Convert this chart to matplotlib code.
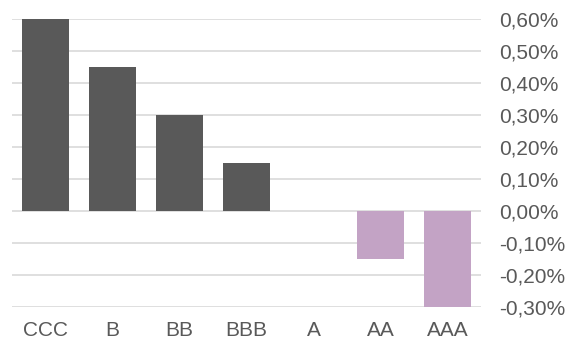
import matplotlib
matplotlib.use("Agg")
import matplotlib.pyplot as plt
from matplotlib.ticker import FuncFormatter, MultipleLocator

plt.rcParams["font.family"] = ["Liberation Sans", "DejaVu Sans"]

ratings = ["CCC", "B", "BB", "BBB", "A", "AA", "AAA"]
spreads = [0.60, 0.45, 0.30, 0.15, 0.0, -0.15, -0.30]  # in percent

POS_COLOR = "#595959"
NEG_COLOR = "#C3A3C5"
TEXT_COLOR = "#595959"
GRID_COLOR = "#D9D9D9"

W, H = 575, 340
fig = plt.figure(figsize=(W / 100, H / 100), dpi=100)
ax = fig.add_axes([12 / W, 1 - 307 / H, (481 - 12) / W, (307 - 19) / H])

colors = [POS_COLOR if v >= 0 else NEG_COLOR for v in spreads]
ax.bar(range(len(ratings)), spreads, width=0.70, color=colors, zorder=2)

ax.set_xlim(-0.5, len(ratings) - 0.5)
ax.set_ylim(-0.30, 0.60)
ax.yaxis.set_major_locator(MultipleLocator(0.10))
ax.yaxis.set_major_formatter(FuncFormatter(lambda v, _: f"{v:.2f}%".replace(".", ",")))
ax.yaxis.tick_right()
ax.grid(axis="y", color=GRID_COLOR, linewidth=1.2, zorder=0)

ax.set_xticks(range(len(ratings)))
ax.set_xticklabels(ratings)
ax.tick_params(axis="both", length=0, labelsize=15, colors=TEXT_COLOR)
ax.tick_params(axis="x", pad=10)
ax.tick_params(axis="y", pad=13)

for s in ax.spines.values():
    s.set_visible(False)

fig.savefig("out.png", dpi=100, facecolor="white")
